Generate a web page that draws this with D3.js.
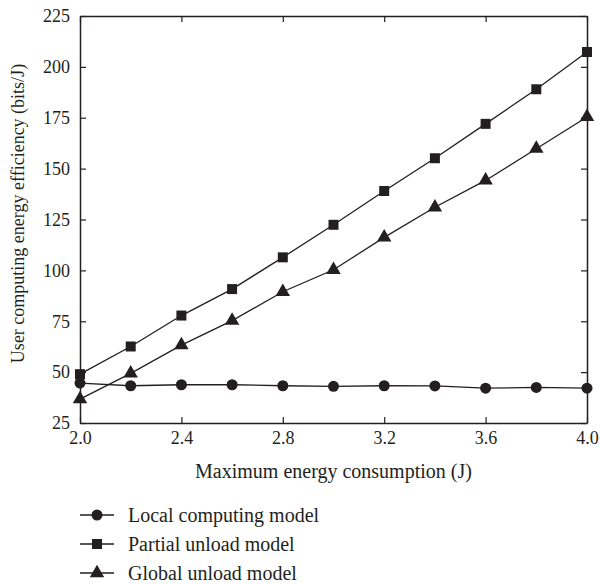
<!DOCTYPE html>
<html>
<head>
<meta charset="utf-8">
<script src="https://cdn.jsdelivr.net/npm/d3@7"></script>
<style>
  body { margin: 0; background: #fff; }
  svg text { font-family: "Liberation Serif", "Times New Roman", serif; fill: #231f20; }
</style>
</head>
<body>
<div class="chart"></div>
<script>
// data
var energy = [2.0, 2.2, 2.4, 2.6, 2.8, 3.0, 3.2, 3.4, 3.6, 3.8, 4.0];
var local_model = [44.6, 43.3, 43.8, 43.8, 43.3, 43.0, 43.3, 43.2, 42.1, 42.5, 42.1];
var partial_model = [49, 62.6, 77.8, 90.8, 106.4, 122.4, 139, 155.1, 172, 189, 207.3];
var global_model = [36.7, 49.4, 63.3, 75.3, 89.5, 100.3, 116.2, 131, 144.2, 159.8, 175.4];
var series_names = ["Local computing model", "Partial unload model", "Global unload model"];
var x_ticks = [2.0, 2.4, 2.8, 3.2, 3.6, 4.0];
var y_ticks = [25, 50, 75, 100, 125, 150, 175, 200, 225];

var margin = {top: 16, right: 13, bottom: 161, left: 80},
    fullWidth = 600,
    fullHeight = 584,
    width = fullWidth - margin.left - margin.right,
    height = fullHeight - margin.top - margin.bottom;

var ink = "#231f20";

var svg = d3.select(".chart")
    .append("svg")
    .attr("width", fullWidth)
    .attr("height", fullHeight);

var g = svg.append("g")
    .attr("transform", "translate(" + margin.left + "," + margin.top + ")");

var x = d3.scaleLinear().domain([2.0, 4.0]).range([0, width]);
var y = d3.scaleLinear().domain([25, 225]).range([height, 0]);

// axes, ticks point inward
var xAxis = g.append("g")
    .attr("transform", "translate(0," + height + ")")
    .call(d3.axisBottom(x).tickValues(x_ticks).tickFormat(d3.format(".1f")).tickSizeInner(-6).tickSizeOuter(0).tickPadding(9));
var xTop = g.append("g")
    .call(d3.axisTop(x).tickValues(x_ticks).tickFormat("").tickSizeInner(-6).tickSizeOuter(0));
var yAxis = g.append("g")
    .call(d3.axisLeft(y).tickValues(y_ticks).tickSizeInner(-6).tickSizeOuter(0).tickPadding(10));
var yRight = g.append("g")
    .attr("transform", "translate(" + width + ",0)")
    .call(d3.axisRight(y).tickValues(y_ticks).tickFormat("").tickSizeInner(-6).tickSizeOuter(0));

[xAxis, xTop, yAxis, yRight].forEach(function(a) {
    a.select(".domain").attr("stroke", ink).attr("stroke-width", 1.5);
    a.selectAll(".tick line").attr("stroke", ink).attr("stroke-width", 1.2);
    a.selectAll("text").style("font-size", "18px").attr("fill", ink);
});
xAxis.selectAll(".tick text").attr("dy", "0.68em");

// axis titles
g.append("text")
    .attr("x", width / 2)
    .attr("y", height + 48)
    .attr("dy", "0.35em")
    .attr("text-anchor", "middle")
    .style("font-size", "20px")
    .text("Maximum energy consumption (J)");

g.append("text")
    .attr("transform", "translate(" + (18 - margin.left) + "," + (height / 2 - 6) + ") rotate(-90)")
    .attr("text-anchor", "middle")
    .attr("dy", "0.35em")
    .style("font-size", "18px")
    .text("User computing energy efficiency (bits/J)");

// series
var all_series = [
    {name: series_names[0], values: local_model, shape: d3.symbolCircle, size: 95},
    {name: series_names[1], values: partial_model, shape: d3.symbolSquare, size: 100},
    {name: series_names[2], values: global_model, shape: d3.symbolTriangle, size: 90}
];

var line = d3.line()
    .x(function(d, i) { return x(energy[i]); })
    .y(function(d) { return y(d); });

all_series.forEach(function(s) {
    g.append("path")
        .datum(s.values)
        .attr("fill", "none")
        .attr("stroke", ink)
        .attr("stroke-width", 1.3)
        .attr("d", line);

    g.selectAll(null)
        .data(s.values)
        .enter()
        .append("path")
        .attr("transform", function(d, i) { return "translate(" + x(energy[i]) + "," + y(d) + ")"; })
        .attr("d", d3.symbol().type(s.shape).size(s.size))
        .attr("fill", ink);
});

// legend
var legend = svg.append("g")
    .attr("transform", "translate(80,515)");

var rows = legend.selectAll("g")
    .data(all_series)
    .enter()
    .append("g")
    .attr("transform", function(d, i) { return "translate(0," + (i * 29) + ")"; });

rows.append("line")
    .attr("x1", 0).attr("x2", 34)
    .attr("y1", 0).attr("y2", 0)
    .attr("stroke", ink)
    .attr("stroke-width", 1.3);

rows.append("path")
    .attr("transform", "translate(17,0)")
    .attr("d", function(d) { return d3.symbol().type(d.shape).size(d.size)(); })
    .attr("fill", ink);

rows.append("text")
    .attr("x", 48)
    .attr("dy", "0.35em")
    .style("font-size", "20px")
    .text(function(d) { return d.name; });
</script>
</body>
</html>
